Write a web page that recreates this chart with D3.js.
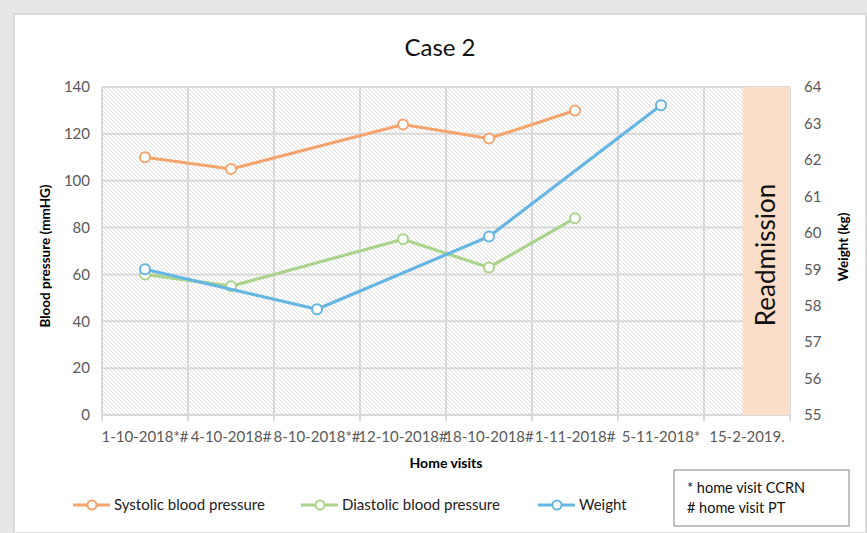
<!DOCTYPE html>
<html>
<head>
<meta charset="utf-8">
<script src="https://cdn.jsdelivr.net/npm/d3@7"></script>
<style>
  body { margin: 0; background: #e6e7e8; }
  svg { display: block; font-family: Lato, "Open Sans", sans-serif; }
</style>
</head>
<body>
<div class="main"></div>
<script>
////Data
const visits = ['1-10-2018*#', '4-10-2018#', '8-10-2018*#', '12-10-2018#', '18-10-2018#', '1-11-2018#', '5-11-2018*', '15-2-2019.'];
const systolic = [110, 105, null, 124, 118, 130, null, null];
const diastolic = [60, 55, null, 75, 63, 84, null, null];
const weight = [59.0, null, 57.9, null, 59.9, null, 63.5, null];
const bpTicks = [0, 20, 40, 60, 80, 100, 120, 140];
const weightTicks = [55, 56, 57, 58, 59, 60, 61, 62, 63, 64];
const notes = ['* home visit CCRN', '# home visit PT'];

////Globals
const width = 867;
const height = 533;
const plot = { left: 102, right: 790, top: 87, bottom: 415 };
const gridColor = '#d9d9d9';
const tickColor = '#595959';

const svg = d3.select('.main').append('svg')
  .attr('width', width)
  .attr('height', height);

// hatch pattern for the plot area
const defs = svg.append('defs');
const pat = defs.append('pattern')
  .attr('id', 'hatch')
  .attr('patternUnits', 'userSpaceOnUse')
  .attr('width', 4)
  .attr('height', 4);
pat.append('rect').attr('width', 4).attr('height', 4).attr('fill', '#fff');
pat.append('path')
  .attr('d', 'M-1,-1 L5,5 M-1,3 L1,5 M3,-1 L5,1')
  .attr('stroke', '#dcdcdc')
  .attr('stroke-width', 0.9);

// white panel
svg.append('rect')
  .attr('x', 14).attr('y', 14)
  .attr('width', width - 15).attr('height', height - 14)
  .attr('fill', '#fff')
  .attr('stroke', '#d4d4d4')
  .attr('stroke-width', 1.5);

const x = d3.scaleBand().domain(visits).range([plot.left, plot.right]);
const yBp = d3.scaleLinear().domain([0, 140]).range([plot.bottom, plot.top]);
const yW = d3.scaleLinear().domain([55, 64]).range([plot.bottom, plot.top]);
const cx = d => x(d) + x.bandwidth() / 2;

svg.append('rect')
  .attr('x', plot.left).attr('y', plot.top)
  .attr('width', plot.right - plot.left).attr('height', plot.bottom - plot.top)
  .attr('fill', 'url(#hatch)');

// grid
svg.append('g').selectAll('line')
  .data(bpTicks)
  .enter().append('line')
  .attr('x1', plot.left).attr('x2', plot.right)
  .attr('y1', d => yBp(d)).attr('y2', d => yBp(d))
  .attr('stroke', gridColor).attr('stroke-width', 2);

svg.append('g').selectAll('line')
  .data(visits.concat(['end']))
  .enter().append('line')
  .attr('x1', (d, i) => plot.left + i * x.bandwidth())
  .attr('x2', (d, i) => plot.left + i * x.bandwidth())
  .attr('y1', plot.top).attr('y2', plot.bottom + 6)
  .attr('stroke', gridColor).attr('stroke-width', 2);

// readmission band
const last = visits[visits.length - 1];
svg.append('rect')
  .attr('x', x(last) + x.bandwidth() * 0.45)
  .attr('y', plot.top)
  .attr('width', plot.right - (x(last) + x.bandwidth() * 0.45))
  .attr('height', plot.bottom - plot.top)
  .attr('fill', '#fbdec9');
svg.append('text')
  .attr('transform', `translate(${x(last) + x.bandwidth() * 0.725 + 9},255) rotate(-90)`)
  .attr('text-anchor', 'middle')
  .attr('font-size', 26)
  .attr('fill', '#111')
  .text('Readmission');

// axes
const leftAxis = svg.append('g')
  .attr('transform', `translate(${plot.left},0)`)
  .call(d3.axisLeft(yBp).tickValues(bpTicks).tickSize(0).tickPadding(12));
const rightAxis = svg.append('g')
  .attr('transform', `translate(${plot.right},0)`)
  .call(d3.axisRight(yW).tickValues(weightTicks).tickSize(0).tickPadding(14));
const bottomAxis = svg.append('g')
  .attr('transform', `translate(0,${plot.bottom})`)
  .call(d3.axisBottom(x).tickSize(0).tickPadding(16));
[leftAxis, rightAxis, bottomAxis].forEach(g => {
  g.select('.domain').remove();
  g.selectAll('text')
    .attr('font-family', 'Lato, "Open Sans", sans-serif')
    .attr('font-size', 15)
    .attr('fill', tickColor);
});

// axis titles
svg.append('text')
  .attr('x', 440).attr('y', 56)
  .attr('text-anchor', 'middle')
  .attr('font-size', 24)
  .attr('fill', '#111')
  .text('Case 2');
svg.append('text')
  .attr('transform', 'translate(50,256) rotate(-90)')
  .attr('text-anchor', 'middle')
  .attr('font-size', 13.5)
  .attr('font-weight', 'bold')
  .text('Blood pressure (mmHG)');
svg.append('text')
  .attr('transform', 'translate(848,247) rotate(-90)')
  .attr('text-anchor', 'middle')
  .attr('font-size', 13.5)
  .attr('font-weight', 'bold')
  .text('Weight (kg)');
svg.append('text')
  .attr('x', 446).attr('y', 468)
  .attr('text-anchor', 'middle')
  .attr('font-size', 14)
  .attr('font-weight', 'bold')
  .text('Home visits');

// series
const series = [
  { name: 'Systolic blood pressure', values: systolic, y: yBp, color: '#f5a46d', lx: 73 },
  { name: 'Diastolic blood pressure', values: diastolic, y: yBp, color: '#acd38b', lx: 301 },
  { name: 'Weight', values: weight, y: yW, color: '#66b6e4', lx: 538 }
];

series.forEach(s => {
  const pts = visits.map((v, i) => ({ v, val: s.values[i] })).filter(p => p.val != null);
  const line = d3.line().x(p => cx(p.v)).y(p => s.y(p.val));
  svg.append('path')
    .datum(pts)
    .attr('d', line)
    .attr('fill', 'none')
    .attr('stroke', s.color)
    .attr('stroke-width', 3.2)
    .attr('stroke-linejoin', 'round');
  svg.append('g').selectAll('circle')
    .data(pts)
    .enter().append('circle')
    .attr('cx', p => cx(p.v))
    .attr('cy', p => s.y(p.val))
    .attr('r', 5)
    .attr('fill', '#fff')
    .attr('stroke', s.color)
    .attr('stroke-width', 2);

  // legend entry
  const g = svg.append('g').attr('transform', `translate(${s.lx},505)`);
  g.append('line').attr('x1', 0).attr('x2', 37).attr('stroke', s.color).attr('stroke-width', 3.2);
  g.append('circle').attr('cx', 19).attr('r', 4.5).attr('fill', '#fff').attr('stroke', s.color).attr('stroke-width', 2);
  g.append('text').attr('x', 41).attr('y', 5).attr('font-size', 15).attr('fill', '#222').text(s.name);
});

// notes box
svg.append('rect')
  .attr('x', 674).attr('y', 470)
  .attr('width', 175).attr('height', 56)
  .attr('fill', '#fff')
  .attr('stroke', '#999')
  .attr('stroke-width', 1.2);
svg.append('g').selectAll('text')
  .data(notes)
  .enter().append('text')
  .attr('x', 687)
  .attr('y', (d, i) => 493 + i * 20)
  .attr('font-size', 14.5)
  .attr('fill', '#111')
  .text(d => d);
</script>
</body>
</html>
